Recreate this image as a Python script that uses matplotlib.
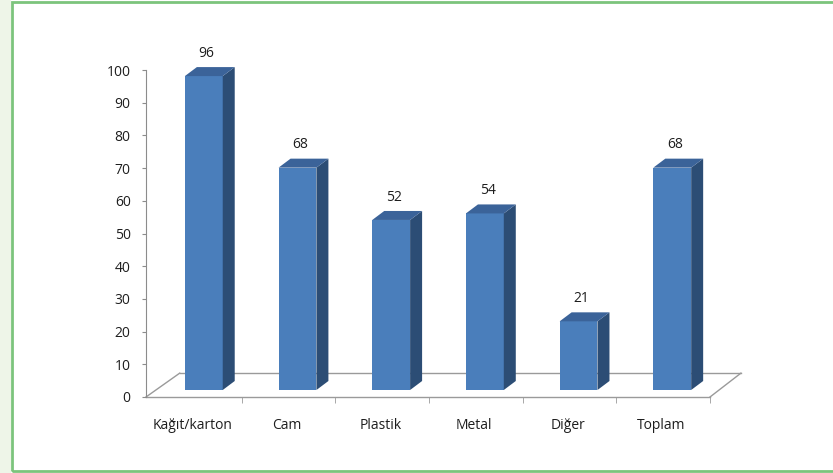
import matplotlib.pyplot as plt
from matplotlib.patches import Rectangle, Polygon

categories = ["Kağıt/karton", "Cam", "Plastik", "Metal", "Diğer", "Toplam"]
values = [96, 68, 52, 54, 21, 68]
yticks = list(range(0, 101, 10))

plt.rcParams['font.family'] = ['Open Sans', 'DejaVu Sans']

W, H = 833, 473
fig = plt.figure(figsize=(W / 100, H / 100), dpi=100)
fig.patch.set_facecolor('white')

# page frame: light green margin on the left and a green border (open to the right)
fig.patches.append(Rectangle((0, 0), 11 / W, 1, transform=fig.transFigure,
                             facecolor='#eef5e8', edgecolor='none', zorder=0))
fig.patches.append(Rectangle((11.5 / W, 1 - 470.5 / H), 2, (468.5) / H,
                             transform=fig.transFigure, facecolor='none',
                             edgecolor='#7cc47c', linewidth=2, zorder=1))

ax = fig.add_axes([146 / W, 1 - 397 / H, 564 / W, 327 / H])
ax.set_facecolor('none')
ax.set_xlim(0, 6)
ax.set_ylim(0, 100)
for s in ['top', 'right', 'bottom']:
    ax.spines[s].set_visible(False)
ax.spines['left'].set_color('#8c8c8c')

grey = '#9a9a9a'
txt = '#1e1e1e'

# floor of the 3D plot
fx, fy = 0.36, 7.3
ax.plot([0, 6.02], [0, 0], color=grey, lw=1, clip_on=False, zorder=1)
ax.plot([fx, 6 + fx - 0.01], [fy, fy], color=grey, lw=1, clip_on=False, zorder=1)
ax.plot([0, fx], [0, fy], color=grey, lw=1, clip_on=False, zorder=1)
ax.plot([6.02, 6 + fx - 0.01], [0, fy], color=grey, lw=1, clip_on=False, zorder=1)

# bars: front face, side and top
w = 0.404
dx, dy = 0.128, 2.75
y0 = 2.14
for i, v in enumerate(values):
    x0 = i + 0.415
    ax.add_patch(Rectangle((x0, y0), w, v, facecolor='#4a7ebb',
                           edgecolor='none', zorder=3, clip_on=False))
    ax.add_patch(Polygon([(x0 + w, y0), (x0 + w + dx, y0 + dy),
                          (x0 + w + dx, y0 + v + dy), (x0 + w, y0 + v)],
                         closed=True, facecolor='#2c4d75', edgecolor='none',
                         zorder=3, clip_on=False))
    ax.add_patch(Polygon([(x0, y0 + v), (x0 + w, y0 + v),
                          (x0 + w + dx, y0 + v + dy), (x0 + dx, y0 + v + dy)],
                         closed=True, facecolor='#3b6399', edgecolor='none',
                         zorder=3, clip_on=False))
    ax.text(x0 + w / 2 + 0.03, y0 + v + 7.0, str(v), ha='center', va='center',
            fontsize=10, color=txt, clip_on=False)

ax.set_yticks(yticks)
ax.set_yticklabels([str(t) for t in yticks], fontsize=10, color=txt)
ax.tick_params(axis='y', length=3, color='#8c8c8c', pad=8)

ax.set_xticks([i + 0.5 for i in range(len(categories))])
ax.set_xticklabels(categories, fontsize=10, color=txt)
ax.set_xticks([i + 1.02 for i in range(len(categories))], minor=True)
ax.tick_params(axis='x', which='major', length=0, pad=15)
ax.tick_params(axis='x', which='minor', length=4, color=grey, direction='out')

fig.savefig('out.png', dpi=100)
